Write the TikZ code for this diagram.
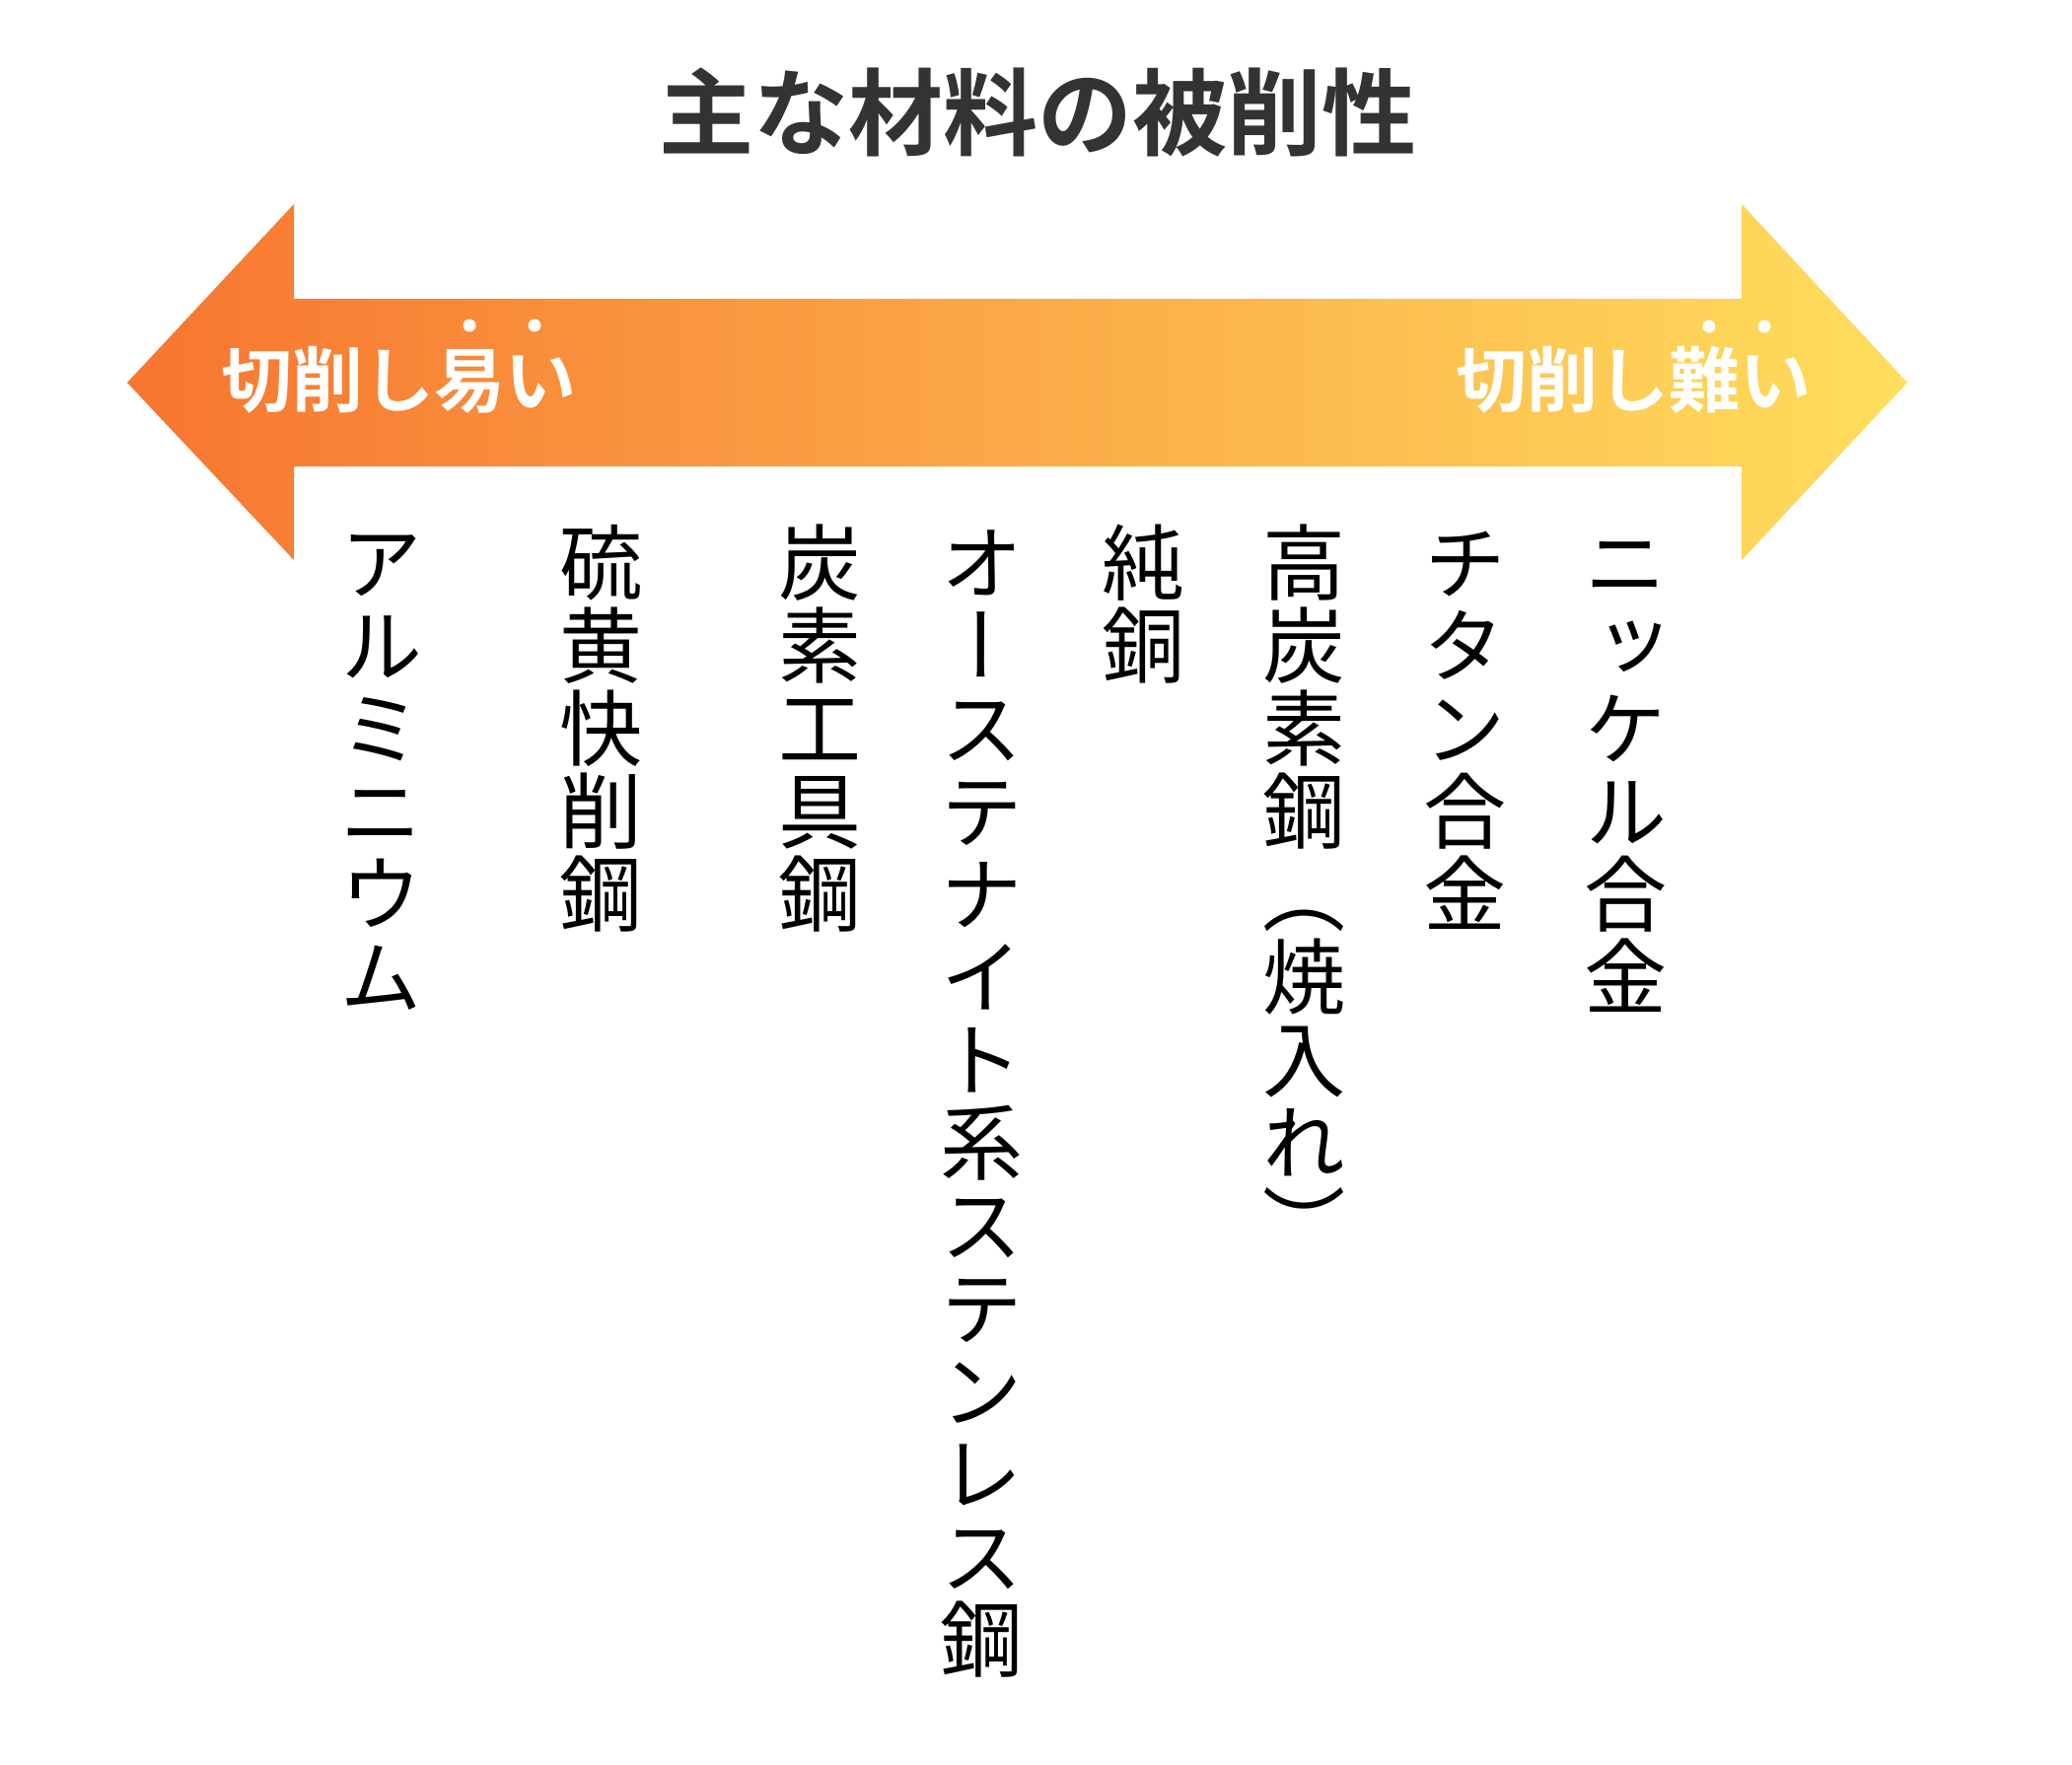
\documentclass[tikz,border=0pt]{standalone}
\usepackage{fontspec}
\newfontfamily\jp{Noto Sans CJK JP}
\newfontfamily\jpb{Noto Sans CJK JP Bold}
\newfontfamily\jpv[RawFeature=+vert]{Noto Sans CJK JP}
\definecolor{arrowL}{RGB}{247,117,48}
\definecolor{arrowR}{RGB}{255,222,93}
\definecolor{titlegray}{RGB}{51,51,51}
\tikzset{
  vch/.style={inner sep=0pt, anchor=base, font=\jpv\fontsize{42}{42}\selectfont, text=black},
  lbl/.style={inner sep=0pt, font=\jpb\fontsize{36}{36}\selectfont, text=white},
  dotmark/.style={fill=white, draw=none},
  ttl/.style={inner sep=0pt, font=\jpb\fontsize{48}{48}\selectfont, text=titlegray}
}
\newcommand\vcol[3]{\foreach \ch [count=\i] in {#3} {\node[vch] (#1-\i) at (#2,{602+(\i-1)*84}) {\ch};}}
\begin{document}
\begin{tikzpicture}[x=0.5pt,y=-0.5pt]
\useasboundingbox[fill=white] (0,0) rectangle (2101,1790);
% title
\node[ttl] (title) at (1052,114) {主な材料の被削性};
% double arrow
\shade[left color=arrowL, right color=arrowR]
  (129,388) -- (298,207) -- (298,303) -- (1766,303) -- (1766,207) -- (1934,388)
  -- (1766,568) -- (1766,473) -- (298,473) -- (298,568) -- cycle;
% labels
\node[lbl, anchor=base west] (easy) at (224,412) {切削し易い};
\node[lbl, anchor=base east] (hard) at (1837,412) {切削し難い};
\fill[dotmark] (476,330) circle (6.5);
\fill[dotmark] (542,330) circle (6.5);
\fill[dotmark] (1733,331) circle (6.5);
\fill[dotmark] (1789,331) circle (6.5);
% vertical columns
\vcol{al}{386}{ア,ル,ミ,ニ,ウ,ム}
\vcol{sf}{609}{硫,黄,快,削,鋼}
\vcol{ct}{831}{炭,素,工,具,鋼}
\vcol{ss}{995}{オ,ー,ス,テ,ナ,イ,ト,系,ス,テ,ン,レ,ス,鋼}
\vcol{cu}{1159}{純,銅}
\vcol{hc}{1322}{高,炭,素,鋼,（,焼,入,れ,）}
\vcol{ti}{1485}{チ,タ,ン,合,金}
\vcol{ni}{1648}{ニ,ッ,ケ,ル,合,金}
\end{tikzpicture}
\end{document}
